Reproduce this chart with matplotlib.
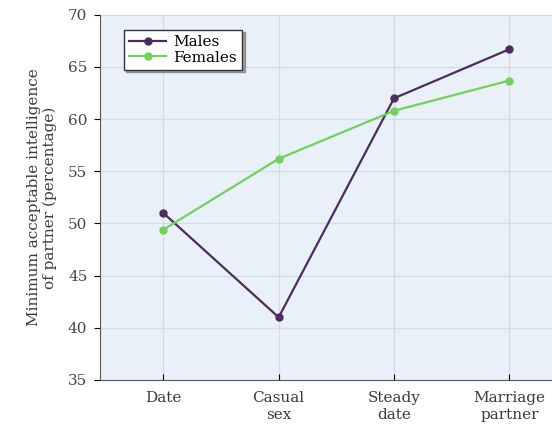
import matplotlib.pyplot as plt

plt.rcParams['font.family'] = ['DejaVu Serif']

# data
categories = ['Date', 'Casual\nsex', 'Steady\ndate', 'Marriage\npartner']
males = [51.0, 41.0, 62.0, 66.7]
females = [49.4, 56.2, 60.8, 63.7]

fig = plt.figure(figsize=(5.52, 4.24), dpi=100)
ax = fig.add_axes([0.181, 0.104, 0.819, 0.861])
ax.set_facecolor('#eaf0f8')

x = range(len(categories))
ax.plot(x, males, color='#4b2c5c', marker='o', markersize=5, lw=1.6, label='Males')
ax.plot(x, females, color='#74cf62', marker='o', markersize=5, lw=1.6, label='Females')

ax.set_xlim(-0.55, 3.37)
ax.set_ylim(35, 70)
ax.set_yticks(range(35, 71, 5))
ax.set_xticks(list(x))
ax.set_xticklabels(categories, fontsize=11, color='#3a3a3a', linespacing=1.3)
ax.tick_params(axis='y', direction='out', labelsize=11, labelcolor='#444444', length=4, pad=5)
ax.tick_params(axis='x', direction='in', length=4, pad=8)
ax.grid(color='#d4dae4', lw=0.8)
ax.set_axisbelow(True)

for s in ['top', 'right']:
    ax.spines[s].set_visible(False)
for s in ['left', 'bottom']:
    ax.spines[s].set_color('#555555')

ax.set_ylabel('Minimum acceptable intelligence\nof partner (percentage)', fontsize=11,
              color='#3a3a3a', labelpad=8, linespacing=1.1)

leg = ax.legend(loc='upper left', bbox_to_anchor=(0.053, 0.959), borderaxespad=0, fontsize=11,
                frameon=True, fancybox=False, shadow={'ox': 1.5, 'oy': -1.5, 'color': '#555555'},
                borderpad=0.35, labelspacing=0.1, handlelength=2.4, handletextpad=0.5)
leg.get_frame().set_edgecolor('#333333')
leg.get_frame().set_facecolor('white')

fig.savefig('out.png', dpi=100)
